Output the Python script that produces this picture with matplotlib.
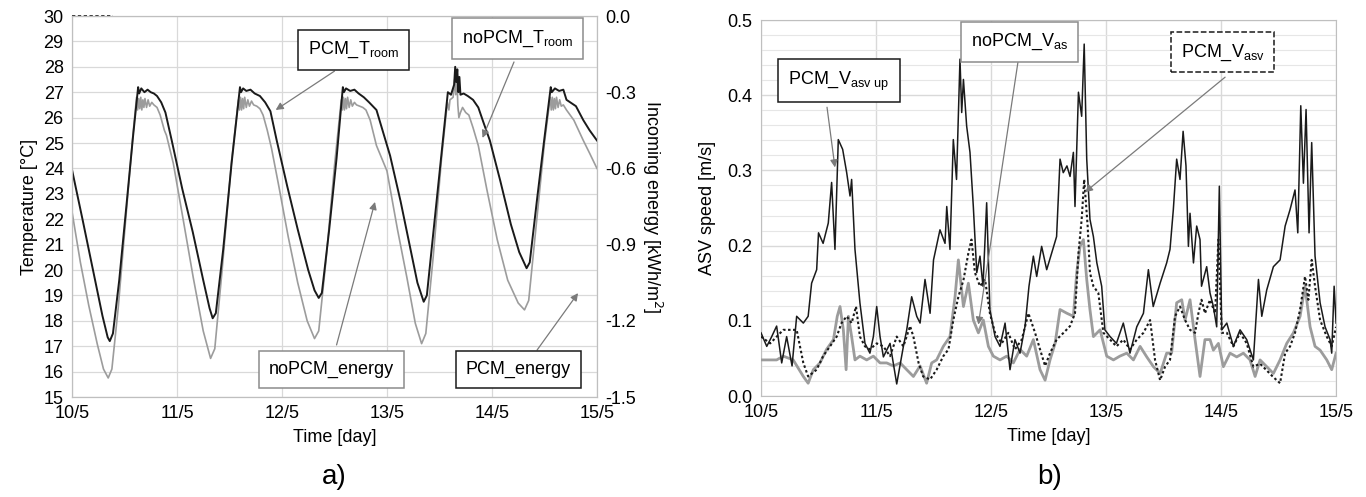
import numpy as np
import matplotlib.pyplot as plt

plt.rcParams['font.family'] = ['Liberation Sans', 'DejaVu Sans']
plt.rcParams['axes.unicode_minus'] = False

# ---- panel a) room temperature [deg C] vs time [day] ----
day_labels = ['10/5', '11/5', '12/5', '13/5', '14/5', '15/5']

pcm_t_day = [0.00, 0.10, 0.20, 0.29, 0.34, 0.36, 0.39, 0.45, 0.52, 0.58, 0.63, 0.64, 0.66, 0.69,
             0.72, 0.75, 0.78, 0.81, 0.85, 0.89, 0.95, 1.05, 1.15, 1.25, 1.31, 1.34, 1.37, 1.44,
             1.52, 1.60, 1.61, 1.63, 1.66, 1.70, 1.74, 1.79, 1.84, 1.89, 1.95, 2.05, 2.15, 2.25,
             2.31, 2.35, 2.38, 2.45, 2.52, 2.58, 2.59, 2.61, 2.65, 2.69, 2.73, 2.78, 2.83, 2.90,
             3.03, 3.13, 3.22, 3.29, 3.35, 3.38, 3.45, 3.52, 3.58, 3.61, 3.64, 3.65, 3.66, 3.67,
             3.68, 3.69, 3.70, 3.73, 3.77, 3.82, 3.87, 3.92, 3.98, 4.08, 4.18, 4.26, 4.33, 4.36,
             4.43, 4.50, 4.56, 4.57, 4.60, 4.64, 4.68, 4.71, 4.80, 4.87, 4.93, 5.00]
pcm_t_val = [23.95, 22.0, 20.0, 18.2, 17.35, 17.2, 17.5, 19.6, 22.6, 25.2, 27.2, 26.95, 27.15, 27.0,
             27.1, 27.0, 26.95, 26.85, 26.6, 26.2, 25.1, 23.2, 21.5, 19.6, 18.5, 18.1, 18.3, 20.8,
             24.2, 27.2, 27.0, 27.15, 27.05, 27.1, 26.95, 26.85, 26.6, 26.25, 25.1, 23.3, 21.6, 20.0,
             19.2, 18.9, 19.1, 21.6, 24.4, 27.2, 27.0, 27.15, 27.05, 27.1, 26.95, 26.8, 26.6, 26.3,
             24.5, 22.7, 20.9, 19.5, 18.75, 19.0, 21.8, 24.6, 27.0, 26.9, 27.3, 28.0, 27.4, 27.9,
             27.0, 27.6, 26.9, 26.95, 26.85, 26.7, 26.4, 25.8, 25.1, 23.5, 21.8, 20.7, 20.07, 20.3,
             22.8, 25.2, 27.2, 27.0, 27.15, 27.05, 27.1, 26.7, 26.45, 25.9, 25.5, 25.1]

nopcm_t_day = [0.00, 0.08, 0.16, 0.24, 0.30, 0.345, 0.38, 0.44, 0.52, 0.58, 0.615, 0.625, 0.635,
               0.645, 0.655, 0.665, 0.675, 0.685, 0.695, 0.71, 0.725, 0.74, 0.76, 0.78, 0.81, 0.84,
               0.88, 0.90, 0.965, 1.05, 1.155, 1.25, 1.32, 1.36, 1.43, 1.52, 1.585, 1.595, 1.605,
               1.615, 1.625, 1.635, 1.645, 1.66, 1.675, 1.69, 1.71, 1.73, 1.76, 1.79, 1.82, 1.86,
               1.90, 1.97, 2.06, 2.15, 2.24, 2.31, 2.35, 2.42, 2.50, 2.565, 2.575, 2.585, 2.595,
               2.605, 2.615, 2.625, 2.64, 2.655, 2.67, 2.69, 2.71, 2.74, 2.77, 2.80, 2.84, 2.90,
               3.00, 3.10, 3.19, 3.27, 3.33, 3.37, 3.44, 3.52, 3.575, 3.59, 3.60, 3.63, 3.645,
               3.655, 3.665, 3.675, 3.685, 3.70, 3.72, 3.75, 3.78, 3.82, 3.87, 3.95, 4.05, 4.15,
               4.25, 4.31, 4.35, 4.42, 4.50, 4.555, 4.565, 4.575, 4.585, 4.595, 4.605, 4.615,
               4.63, 4.645, 4.66, 4.68, 4.71, 4.78, 4.87, 4.93, 5.00]
nopcm_t_val = [22.3, 20.3, 18.6, 17.1, 16.1, 15.75, 16.1, 18.5, 22.4, 25.3, 26.8, 26.3, 26.75,
               26.35, 26.8, 26.3, 26.7, 26.4, 26.75, 26.4, 26.7, 26.45, 26.6, 26.5, 26.4, 26.1,
               25.5, 25.3, 24.2, 22.2, 19.7, 17.6, 16.52, 16.9, 20.0, 24.3, 26.7, 26.3, 26.8,
               26.3, 26.75, 26.35, 26.8, 26.4, 26.7, 26.45, 26.65, 26.5, 26.45, 26.35, 26.1, 25.5,
               24.8, 23.3, 21.3, 19.5, 18.0, 17.3, 17.6, 20.4, 24.1, 26.7, 26.3, 26.8, 26.3,
               26.75, 26.35, 26.8, 26.4, 26.7, 26.45, 26.6, 26.5, 26.45, 26.4, 26.3, 25.9, 24.9,
               23.9, 21.6, 19.7, 17.9, 17.1, 17.5, 20.5, 24.4, 26.6, 26.3, 26.7, 26.8, 27.5,
               26.9, 27.7, 26.5, 26.0, 26.2, 26.4, 26.2, 26.1, 25.6, 24.9, 23.2, 21.2, 19.6,
               18.7, 18.43, 18.8, 21.7, 25.0, 26.8, 26.3, 26.8, 26.3, 26.75, 26.35, 26.8,
               26.4, 26.7, 26.45, 26.5, 26.3, 25.9, 25.1, 24.6, 24.0]

# incoming energy [kWh/m2], only the short visible part at the top
pcm_e_day = [0.0, 0.39]
pcm_e_val = [0.0, 0.0]

# ---- panel b) ASV speed [m/s] ----
vup_day = [0.0, 0.05, 0.09, 0.136, 0.18, 0.223, 0.27, 0.31, 0.368, 0.41, 0.44, 0.484, 0.50, 0.54,
           0.585, 0.614, 0.643, 0.672, 0.71, 0.745, 0.774, 0.788, 0.817, 0.86, 0.904, 0.947,
           0.977, 1.006, 1.035, 1.064, 1.122, 1.18, 1.238, 1.267, 1.31, 1.354, 1.383, 1.426,
           1.47, 1.50, 1.556, 1.60, 1.615, 1.643, 1.672, 1.70, 1.73, 1.745, 1.76, 1.788, 1.817,
           1.846, 1.876, 1.904, 1.93, 1.962, 1.99, 2.035, 2.078, 2.122, 2.165, 2.208, 2.252,
           2.296, 2.33, 2.368, 2.397, 2.44, 2.484, 2.527, 2.57, 2.60, 2.628, 2.66, 2.687, 2.716,
           2.73, 2.76, 2.788, 2.81, 2.832, 2.86, 2.89, 2.92, 2.962, 2.99, 3.035, 3.09, 3.15,
           3.208, 3.267, 3.325, 3.368, 3.41, 3.47, 3.527, 3.556, 3.585, 3.614, 3.643, 3.67,
           3.695, 3.716, 3.73, 3.76, 3.788, 3.817, 3.83, 3.875, 3.904, 3.933, 3.962, 3.985,
           4.006, 4.05, 4.107, 4.165, 4.223, 4.281, 4.325, 4.354, 4.397, 4.455, 4.513, 4.557,
           4.60, 4.643, 4.667, 4.693, 4.716, 4.739, 4.765, 4.788, 4.817, 4.861, 4.904, 4.948,
           4.962, 4.983, 5.0]
vup_val = [0.084, 0.066, 0.078, 0.093, 0.044, 0.079, 0.04, 0.106, 0.097, 0.106, 0.15, 0.168, 0.217,
           0.203, 0.23, 0.284, 0.195, 0.341, 0.328, 0.297, 0.266, 0.288, 0.195, 0.124, 0.07,
           0.057, 0.079, 0.119, 0.079, 0.052, 0.07, 0.016, 0.066, 0.088, 0.132, 0.106, 0.097,
           0.155, 0.11, 0.181, 0.221, 0.203, 0.252, 0.195, 0.341, 0.288, 0.448, 0.377, 0.421,
           0.359, 0.324, 0.252, 0.164, 0.186, 0.146, 0.257, 0.115, 0.079, 0.066, 0.097, 0.035,
           0.075, 0.057, 0.093, 0.146, 0.186, 0.159, 0.199, 0.168, 0.19, 0.212, 0.315, 0.297,
           0.306, 0.292, 0.324, 0.252, 0.404, 0.372, 0.468, 0.315, 0.235, 0.212, 0.177, 0.146,
           0.088, 0.079, 0.07, 0.097, 0.057, 0.092, 0.11, 0.168, 0.119, 0.15, 0.177, 0.195,
           0.248, 0.315, 0.288, 0.352, 0.306, 0.199, 0.243, 0.177, 0.226, 0.208, 0.146, 0.172,
           0.137, 0.119, 0.092, 0.279, 0.088, 0.097, 0.066, 0.088, 0.075, 0.048, 0.155, 0.106,
           0.141, 0.172, 0.181, 0.226, 0.248, 0.274, 0.217, 0.386, 0.283, 0.381, 0.217, 0.337,
           0.186, 0.124, 0.092, 0.075, 0.057, 0.146, 0.097]

vasv_day = [0.0, 0.08, 0.194, 0.31, 0.368, 0.41, 0.484, 0.54, 0.60, 0.658, 0.70, 0.745, 0.788,
            0.826, 0.86, 0.904, 0.947, 1.006, 1.064, 1.122, 1.18, 1.238, 1.296, 1.325, 1.37,
            1.41, 1.47, 1.527, 1.585, 1.63, 1.672, 1.716, 1.76, 1.803, 1.83, 1.86, 1.904, 1.948,
            1.99, 2.035, 2.093, 2.15, 2.208, 2.267, 2.325, 2.383, 2.426, 2.47, 2.513, 2.57, 2.63,
            2.687, 2.73, 2.76, 2.788, 2.81, 2.84, 2.86, 2.89, 2.933, 2.977, 3.035, 3.09, 3.15,
            3.208, 3.267, 3.325, 3.383, 3.426, 3.47, 3.513, 3.556, 3.60, 3.643, 3.687, 3.73,
            3.774, 3.803, 3.83, 3.86, 3.904, 3.948, 3.977, 4.006, 4.05, 4.107, 4.165, 4.223,
            4.281, 4.339, 4.397, 4.455, 4.513, 4.557, 4.60, 4.643, 4.687, 4.73, 4.759, 4.788,
            4.817, 4.861, 4.919, 4.962, 5.0]
vasv_val = [0.079, 0.07, 0.088, 0.088, 0.044, 0.026, 0.035, 0.053, 0.066, 0.079, 0.097, 0.106,
            0.097, 0.119, 0.079, 0.066, 0.062, 0.07, 0.066, 0.053, 0.079, 0.066, 0.093, 0.079,
            0.044, 0.026, 0.022, 0.035, 0.053, 0.062, 0.101, 0.132, 0.154, 0.19, 0.208, 0.164,
            0.146, 0.155, 0.11, 0.084, 0.07, 0.084, 0.062, 0.075, 0.11, 0.084, 0.062, 0.04,
            0.057, 0.075, 0.084, 0.093, 0.11, 0.19, 0.235, 0.288, 0.226, 0.164, 0.146, 0.137,
            0.084, 0.075, 0.066, 0.075, 0.062, 0.075, 0.084, 0.101, 0.048, 0.021, 0.039, 0.048,
            0.106, 0.119, 0.101, 0.088, 0.084, 0.11, 0.128, 0.11, 0.128, 0.11, 0.208, 0.084,
            0.084, 0.066, 0.084, 0.07, 0.039, 0.043, 0.034, 0.025, 0.017, 0.057, 0.066, 0.084,
            0.115, 0.159, 0.128, 0.181, 0.146, 0.101, 0.079, 0.066, 0.092]

vas_day = [0.0, 0.136, 0.194, 0.28, 0.368, 0.41, 0.455, 0.513, 0.57, 0.63, 0.663, 0.687, 0.716,
           0.74, 0.76, 0.788, 0.817, 0.86, 0.919, 0.977, 1.035, 1.093, 1.15, 1.21, 1.267, 1.325,
           1.383, 1.44, 1.484, 1.527, 1.585, 1.643, 1.687, 1.716, 1.76, 1.803, 1.846, 1.89,
           1.933, 1.977, 2.02, 2.078, 2.136, 2.194, 2.252, 2.31, 2.368, 2.426, 2.47, 2.513,
           2.557, 2.60, 2.66, 2.716, 2.745, 2.774, 2.803, 2.832, 2.86, 2.89, 2.948, 3.006, 3.064,
           3.12, 3.18, 3.238, 3.296, 3.354, 3.412, 3.47, 3.527, 3.57, 3.614, 3.658, 3.687, 3.73,
           3.774, 3.817, 3.86, 3.904, 3.933, 3.977, 4.02, 4.078, 4.136, 4.194, 4.252, 4.296,
           4.339, 4.397, 4.455, 4.513, 4.571, 4.629, 4.687, 4.73, 4.774, 4.817, 4.861, 4.919,
           4.962, 5.0]
vas_val = [0.048, 0.048, 0.053, 0.048, 0.026, 0.017, 0.035, 0.044, 0.062, 0.075, 0.106, 0.119,
           0.088, 0.035, 0.106, 0.079, 0.048, 0.053, 0.048, 0.053, 0.044, 0.044, 0.04, 0.044,
           0.035, 0.026, 0.04, 0.017, 0.044, 0.048, 0.066, 0.079, 0.132, 0.181, 0.119, 0.15,
           0.101, 0.084, 0.101, 0.066, 0.053, 0.048, 0.053, 0.044, 0.062, 0.053, 0.075, 0.035,
           0.021, 0.048, 0.07, 0.115, 0.11, 0.106, 0.164, 0.199, 0.208, 0.155, 0.115, 0.079,
           0.088, 0.053, 0.048, 0.053, 0.057, 0.048, 0.066, 0.052, 0.039, 0.03, 0.057, 0.057,
           0.124, 0.128, 0.101, 0.128, 0.075, 0.026, 0.075, 0.075, 0.061, 0.07, 0.039, 0.057,
           0.052, 0.057, 0.048, 0.026, 0.048, 0.039, 0.03, 0.048, 0.07, 0.084, 0.106, 0.146,
           0.092, 0.066, 0.061, 0.048, 0.035, 0.057]

BLACK = '#1a1a1a'
GRAY = '#9c9c9c'
GRID = '#d9d9d9'
SPINE = '#bfbfbf'
ARROW = '#7a7a7a'
FS = 13


def style_axes(ax):
    for s in ax.spines.values():
        s.set_color(SPINE)
    ax.tick_params(length=0, labelsize=FS, pad=6)
    ax.set_axisbelow(True)


def note(ax, text, xy, xytext, tail, edge, ls='-'):
    ax.text(xytext[0], xytext[1], text, ha='center', va='center', fontsize=FS, zorder=6,
            bbox=dict(boxstyle='square,pad=0.55', fc='white', ec=edge, lw=1.1, ls=ls))
    ax.annotate('', xy=xy, xytext=tail, zorder=5,
                arrowprops=dict(arrowstyle='-|>', color=ARROW, lw=0.9, mutation_scale=11,
                                shrinkA=0, shrinkB=0))


fig = plt.figure(figsize=(13.66, 4.97), dpi=100)

# ---------------- a) ----------------
ax1 = fig.add_axes([0.0527, 0.2012, 0.3843, 0.7666])
style_axes(ax1)
ax1.plot(nopcm_t_day, nopcm_t_val, color=GRAY, lw=1.2, zorder=3)
ax1.plot(pcm_t_day, pcm_t_val, color=BLACK, lw=1.4, zorder=4)
ax1.set_xlim(0, 5)
ax1.set_ylim(15, 30)
ax1.set_xticks(range(6))
ax1.set_xticklabels(day_labels)
ax1.set_yticks(range(15, 31))
ax1.grid(True, color=GRID, lw=0.9)
ax1.set_ylabel('Temperature [°C]', fontsize=FS, labelpad=4)
ax1.set_xlabel('Time [day]', fontsize=FS, labelpad=5)

ax2 = ax1.twinx()
style_axes(ax2)
ax2.plot(pcm_e_day, pcm_e_val, color=BLACK, lw=1.2, ls=(0, (2, 1.5)), clip_on=False)
ax2.set_ylim(-1.5, 0)
e_ticks = [0.0, -0.3, -0.6, -0.9, -1.2, -1.5]
ax2.set_yticks(e_ticks)
ax2.set_yticklabels([f'{v:.1f}' for v in e_ticks])
ax2.set_ylabel('Incoming energy [kWh/m$^2$]', fontsize=FS, rotation=270, labelpad=20)

note(ax1, 'PCM_T$_\\mathregular{room}$', (1.94, 26.3), (2.68, 28.66), (2.50, 27.83), BLACK)
note(ax1, 'noPCM_T$_\\mathregular{room}$', (3.91, 25.2), (4.24, 29.11), (4.21, 28.19), '#8c8c8c')
note(ax1, 'noPCM_energy', (2.886, 22.68), (2.47, 16.1), (2.52, 17.05), '#8c8c8c')
note(ax1, 'PCM_energy', (4.82, 19.09), (4.25, 16.08), (4.43, 16.85), BLACK)

fig.text(0.2448, 0.04, 'a)', ha='center', va='center', fontsize=20)

# ---------------- b) ----------------
ax3 = fig.add_axes([0.5571, 0.2032, 0.421, 0.7565])
style_axes(ax3)
ax3.plot(vas_day, vas_val, color=GRAY, lw=2.0, zorder=3)
ax3.plot(vasv_day, vasv_val, color=BLACK, lw=1.5, ls=(0, (1.2, 1.2)), zorder=4)
ax3.plot(vup_day, vup_val, color=BLACK, lw=1.1, zorder=5)
ax3.set_xlim(0, 5)
ax3.set_ylim(0, 0.5)
ax3.set_xticks(range(6))
ax3.set_xticklabels(day_labels)
ax3.set_yticks(np.arange(0, 0.51, 0.1))
ax3.set_yticklabels([f'{v:.1f}' for v in np.arange(0, 0.51, 0.1)])
ax3.set_yticks(np.arange(0, 0.5, 0.02), minor=True)
ax3.tick_params(which='minor', length=0)
ax3.grid(True, which='major', color=GRID, lw=1.0)
ax3.grid(True, which='minor', axis='y', color='#e6e6e6', lw=0.8)
ax3.set_ylabel('ASV speed [m/s]', fontsize=FS, labelpad=8)
ax3.set_xlabel('Time [day]', fontsize=FS, labelpad=5)

note(ax3, 'PCM_V$_\\mathregular{asv\\ up}$', (0.643, 0.304), (0.678, 0.419), (0.574, 0.384), BLACK)
note(ax3, 'noPCM_V$_\\mathregular{as}$', (1.89, 0.095), (2.248, 0.471), (2.235, 0.445), '#8c8c8c')
note(ax3, 'PCM_V$_\\mathregular{asv}$', (2.817, 0.271), (4.013, 0.457), (4.035, 0.424), BLACK, ls='--')

fig.text(0.7686, 0.04, 'b)', ha='center', va='center', fontsize=20)

fig.savefig('out.png', dpi=100)
